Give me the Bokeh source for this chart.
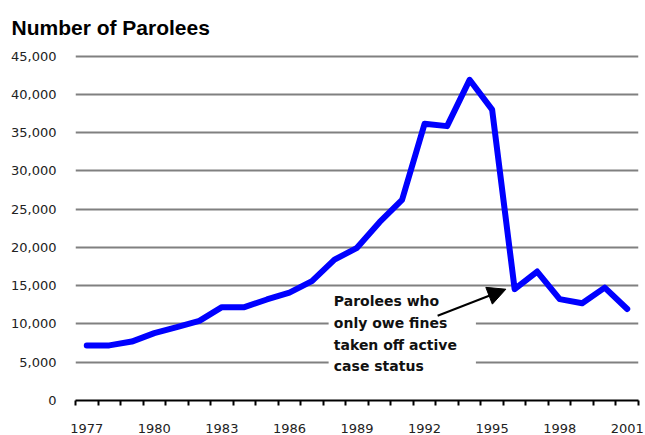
from bokeh.plotting import figure
from bokeh.models import (Range1d, FixedTicker, NumeralTickFormatter, Label, Arrow,
                          NormalHead, BoxAnnotation)
from bokeh.embed import file_html
from bokeh.resources import INLINE

# ---- data ----
years = list(range(1977, 2002))
parolees = [7200, 7200, 7700, 8800, 9600, 10400, 12200, 12200, 13200, 14100,
            15600, 18400, 19950, 23300, 26200, 36150, 35850, 41900, 38000,
            14550, 16850, 13250, 12700, 14750, 11950]
y_ticks = [0, 5000, 10000, 15000, 20000, 25000, 30000, 35000, 40000, 45000]
x_label_years = [1977, 1980, 1983, 1986, 1989, 1992, 1995, 1998, 2001]
title_text = "Number of Parolees"
note_lines = ["Parolees who", "only owe fines", "taken off active", "case status"]

# ---- figure ----
x_lo, x_hi = years[0] - 0.5, years[-1] + 0.5
p = figure(width=645, height=435, output_backend="svg", toolbar_location=None,
           x_range=Range1d(x_lo, x_hi), y_range=Range1d(0, 45600),
           min_border_left=75, min_border_right=7, min_border_top=51,
           min_border_bottom=34, title=title_text)
p.outline_line_color = None
p.background_fill_color = "white"
p.border_fill_color = "white"

# title
p.title.align = "left"
p.title.offset = -64
p.title.standoff = 25
p.title.text_font = "Liberation Sans"
p.title.text_font_style = "bold"
p.title.text_font_size = "21px"
p.title.text_color = "black"

# grid
p.xgrid.grid_line_color = None
p.ygrid.ticker = FixedTicker(ticks=y_ticks)
p.ygrid.grid_line_color = "#808080"
p.ygrid.grid_line_width = 2

# y axis
p.yaxis.ticker = FixedTicker(ticks=y_ticks)
p.yaxis.formatter = NumeralTickFormatter(format="0,0")
p.yaxis.axis_line_color = None
p.yaxis.major_tick_line_color = None
p.yaxis.minor_tick_line_color = None
p.yaxis.major_tick_out = 0
p.yaxis.major_tick_in = 0
p.yaxis.major_label_standoff = 19
p.yaxis.major_label_text_font = "DejaVu Sans"
p.yaxis.major_label_text_font_size = "13px"
p.yaxis.major_label_text_color = "#222222"

# x axis: boundary ticks as minor ticks, labels at category centres
boundaries = [x_lo + k for k in range(len(years) + 1)]
p.xaxis.ticker = FixedTicker(ticks=x_label_years, minor_ticks=boundaries)
p.xaxis.axis_line_color = "black"
p.xaxis.axis_line_width = 2
p.xaxis.major_tick_line_color = None
p.xaxis.major_tick_out = 0
p.xaxis.major_tick_in = 0
p.xaxis.minor_tick_line_color = "black"
p.xaxis.minor_tick_line_width = 2
p.xaxis.minor_tick_out = 5
p.xaxis.minor_tick_in = 0
p.xaxis.major_label_standoff = 18
p.xaxis.major_label_text_font = "DejaVu Sans"
p.xaxis.major_label_text_font_size = "13px"
p.xaxis.major_label_text_color = "#222222"

# annotation background (hides the grid lines behind the note)
p.add_layout(BoxAnnotation(left=1987.74, right=1994.28, bottom=1500, top=14300,
                           fill_color="white", fill_alpha=1.0, line_color=None,
                           level="underlay"))

# data line
p.line(years, parolees, line_width=6, line_color="#0000FF",
       line_join="round", line_cap="round")

# arrow
p.add_layout(Arrow(x_start=1992.58, y_start=11070, x_end=1995.61, y_end=14540,
                   line_color="black", line_width=2,
                   end=NormalHead(size=18, fill_color="black", line_color="black")))

# note text
note_y = [13060, 10160, 7200, 4470]
for txt, yy in zip(note_lines, note_y):
    p.add_layout(Label(x=1987.97, y=yy, text=txt, text_baseline="middle",
                       text_align="left", text_font="DejaVu Sans",
                       text_font_style="bold", text_font_size="14px",
                       text_color="#111111"))

open("out.html", "w").write(file_html(p, INLINE))
